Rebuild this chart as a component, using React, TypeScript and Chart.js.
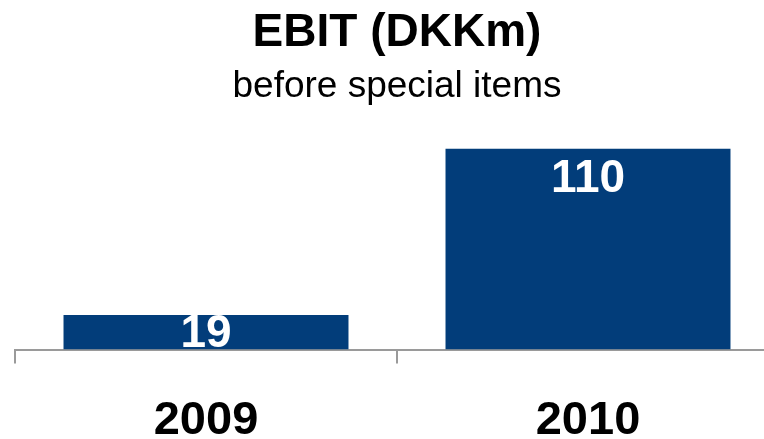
import React, { useEffect, useRef } from "react";
import { Chart, registerables } from "chart.js";

Chart.register(...registerables);

const categories = ["2009", "2010"];
const ebitValues = [19, 110];
const titleText = "EBIT (DKKm)";
const subtitleText = "before special items";

const FONT = "'Liberation Sans', Arial, Helvetica, sans-serif";
const BAR_COLOR = "#023d7a";
const AXIS_COLOR = "#9a9a9a";
const CANVAS_W = 780;
const CANVAS_H = 478;

const valueLabels = {
  id: "valueLabels",
  afterDatasetsDraw(chart: any) {
    const ctx = chart.ctx;
    const meta = chart.getDatasetMeta(0);
    const data = chart.data.datasets[0].data as number[];
    ctx.save();
    ctx.fillStyle = "#ffffff";
    ctx.font = `bold 46px ${FONT}`;
    ctx.textAlign = "center";
    ctx.textBaseline = "alphabetic";
    meta.data.forEach((bar: any, i: number) => {
      const base = bar.base;
      const y = Math.min(bar.y + 43, base - 3);
      ctx.fillText(String(data[i]), bar.x, y);
    });
    ctx.restore();
  },
};

export default function App() {
  const ref = useRef<HTMLCanvasElement | null>(null);
  useEffect(() => {
    if (!ref.current) return;
    const chart = new Chart(ref.current, {
      type: "bar",
      data: {
        labels: categories,
        datasets: [
          {
            data: ebitValues,
            backgroundColor: BAR_COLOR,
            borderWidth: 0,
            categoryPercentage: 1,
            barPercentage: 0.746,
          },
        ],
      },
      options: {
        responsive: false,
        animation: false,
        devicePixelRatio: 1,
        layout: { padding: { left: 15, right: 1, top: 0, bottom: 0 } },
        plugins: {
          legend: { display: false },
          tooltip: { enabled: false },
          title: {
            display: true,
            text: titleText,
            color: "#000",
            font: { family: FONT, size: 46, weight: "bold", lineHeight: 1.2 },
            padding: { top: 6, bottom: 3 },
          },
          subtitle: {
            display: true,
            text: subtitleText,
            color: "#000",
            font: { family: FONT, size: 37, weight: "normal", lineHeight: 1.2 },
            padding: { top: 0, bottom: 22 },
          },
        },
        scales: {
          x: {
            grid: {
              display: true,
              drawOnChartArea: false,
              drawTicks: true,
              tickLength: 14,
              color: AXIS_COLOR,
              lineWidth: 2,
              offset: true,
            },
            border: { display: true, color: AXIS_COLOR, width: 2 },
            ticks: {
              color: "#000",
              padding: 29,
              font: { family: FONT, size: 47, weight: "bold", lineHeight: 1.2 },
            },
          },
          y: {
            display: false,
            min: 0,
            max: 120,
          },
        },
      },
      plugins: [valueLabels],
    });
    return () => chart.destroy();
  }, []);
  return (
    <div
      style={{
        position: "fixed",
        left: 0,
        top: 0,
        width: CANVAS_W,
        height: CANVAS_H,
        background: "#fff",
      }}
    >
      <canvas ref={ref} width={CANVAS_W} height={CANVAS_H} />
    </div>
  );
}
